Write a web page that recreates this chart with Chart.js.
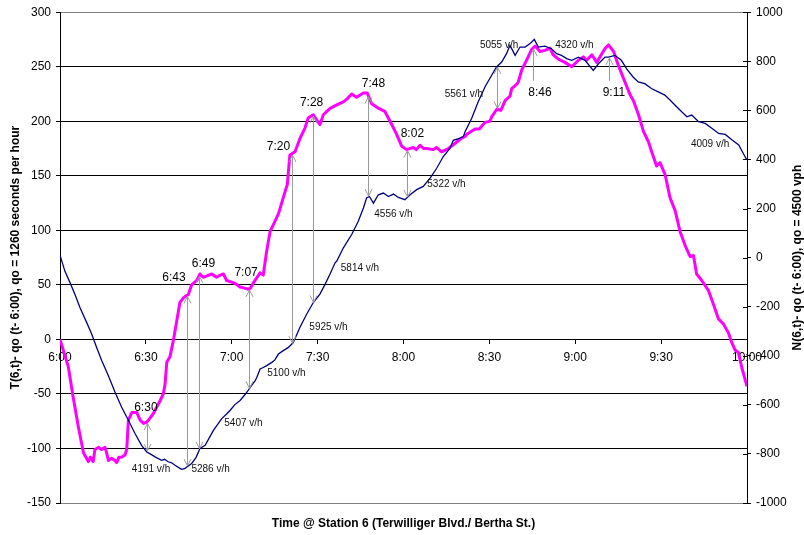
<!DOCTYPE html>
<html>
<head>
<meta charset="utf-8">
<title>Cumulative curves, Station 6</title>
<script src="https://cdn.jsdelivr.net/npm/chart.js@4.4.1/dist/chart.umd.min.js"></script>
<style>
  html, body { margin: 0; padding: 0; background: #ffffff; }
  canvas { display: block; }
</style>
</head>
<body>
<canvas id="chart" width="804" height="535"></canvas>
<script>
// ---- Data -------------------------------------------------------------
// Minutes after 6:00 and T(6,t) - qo (t - 6:00), seconds (left axis)
const tMinutes = [
  0, 2.9, 4.6, 6.4, 8.2, 9.9, 10.6, 11.6, 12.2, 13.5, 14.5, 15.7, 16.3, 16.9, 18.0, 19.2, 19.8,
  20.6, 21.5, 22.7, 23.3, 23.9, 25.1, 26.8, 28.0, 29.2, 30.3, 31.5, 32.6, 34.0, 35.0, 36.1, 36.7,
  37.3, 38.4, 39.6, 40.8, 41.9, 43.1, 44.0, 44.8, 46.0, 47.8, 48.9, 50.0, 51.2, 53.0, 54.7, 56.0,
  57.1, 58.2, 60.5, 62.0, 62.9, 64.5, 65.8, 66.5, 67.6, 69.9, 71.0, 72.2, 73.4, 74.5, 76.3, 78.0,
  79.4, 80.3, 82.1, 83.8, 85.6, 86.7, 87.9, 88.5, 90.2, 90.8, 92.0, 93.2, 94.5, 96.7, 99.1, 100.5,
  101.9, 103.6, 106.0, 107.3, 108.9, 111.2, 113.5, 115.9, 117.6, 119.4, 121.1, 123.4, 124.5, 125.8,
  127.0, 128.1, 130.4, 131.5, 133.3, 135.7, 138.6, 140.0, 141.5, 142.1, 145.0, 146.5, 148.5, 150.2,
  150.8, 152.6, 154.0, 155.5, 157.2, 157.8, 159.6, 160.1, 161.3, 163.0, 164.8, 166.0, 167.7, 169.4,
  171.2, 172.3, 174.1, 176.4, 178.8, 181.1, 182.8, 184.0, 185.8, 187.5, 189.3, 190.5, 191.6, 193.4,
  195.1, 196.9, 199.2, 200.3, 202.1, 203.8, 205.6, 206.7, 208.4, 209.6, 211.4, 213.1, 214.9, 216.6,
  218.4, 220.1, 221.3, 222.4, 224.2, 226.5, 228.3, 230.0, 231.8, 233.5, 234.7, 235.9, 237.0, 238.2,
  240
];
const tSeconds = [
  0, -25, -53, -80, -104, -112, -108, -112, -101, -99, -101, -99, -104, -111, -109, -111, -113,
  -108, -108, -106, -101, -74, -67, -67, -74, -77, -76, -72, -68, -61, -56, -50, -41,
  -21, -16, -1, 17, 34, 38, 40, 41, 50, 54, 60, 57, 58, 60, 57, 59,
  60, 54, 52, 50, 48, 47, 46, 47, 52, 61, 59, 81, 99, 105, 115, 130,
  142, 169, 172, 184, 194, 203, 205, 206, 199, 197, 206, 209, 212, 215, 218, 221,
  225, 222, 226, 226, 216, 212, 209, 197, 188, 177, 174, 176, 174, 178,
  175, 175, 174, 176, 172, 175, 181, 184, 186, 188, 193, 193, 199, 200,
  204, 211, 210, 219, 223, 230, 234, 236, 247, 256, 266, 269, 264, 265,
  267, 261, 257, 254, 250, 256, 259, 256, 261, 254, 262, 267, 270, 264,
  251, 239, 224, 219, 206, 191, 181, 172, 159, 162, 151, 130, 118, 99,
  86, 76, 77, 60, 54, 45, 32, 19, 14, 6, -3, -10, -12, -26,
  -43
];

// Minutes after 6:00 and N(6,t) - qo (t - 6:00), vehicles (right axis)
const nMinutes = [
  0, 1.7, 3.5, 5.2, 7.0, 9.3, 11.1, 12.8, 14.6, 16.9, 19.2, 21.5, 23.9, 26.2, 28.5, 30.3, 31.5,
  33.2, 35.5, 36.5, 37.8, 39.0, 40.2, 41.9, 42.5, 43.7, 44.3, 46.0, 47.5, 48.9, 50.7, 53.6, 56.5,
  58.3, 59.4, 61.0, 62.9, 64.5, 65.8, 67.0, 68.2, 68.7, 69.9, 71.0, 72.2, 74.0, 75.0, 76.3, 78.0,
  79.8, 81.5, 83.8, 86.2, 88.5, 90.8, 92.6, 94.3, 96.1, 96.7, 99.0, 101.9, 104.2, 106.0, 107.1,
  108.1, 109.5, 111.2, 113.0, 114.7, 116.5, 118.2, 120.5, 122.3, 124.6, 126.9, 129.3, 131.6, 133.9,
  136.2, 137.4, 139.5, 140.9, 141.5, 143.8, 146.1, 148.5, 150.8, 152.5, 154.3, 156.0, 157.2, 159.0,
  160.7, 162.5, 164.2, 165.7, 167.1, 169.4, 171.7, 173.5, 175.2, 177.0, 178.8, 181.1, 183.4, 186.3,
  188.1, 190.4, 191.6, 193.9, 196.1, 197.9, 200.2, 202.0, 204.3, 206.6, 209.0, 211.3, 213.1, 214.9,
  217.2, 219.0, 220.7, 223.1, 225.4, 227.7, 230.1, 232.4, 234.7, 237.1, 239.6, 240
];
const nVehicles = [
  10, -55, -102, -149, -204, -264, -312, -366, -420, -481, -548, -609, -663, -717, -765, -792, -800,
  -812, -826, -822, -832, -836, -846, -859, -863, -859, -853, -839, -815, -778, -765, -704, -656,
  -636, -623, -600, -582, -560, -540, -520, -501, -490, -454, -448, -440, -427, -418, -393, -379,
  -366, -346, -285, -230, -183, -149, -109, -68, -21, -14, 40, 94, 148, 202, 243,
  249, 222, 256, 263, 249, 259, 245, 236, 256, 277, 290, 324, 364, 412,
  445, 478, 486, 493, 513, 567, 635, 696, 743, 777, 797, 831, 865, 824,
  858, 858, 872, 889, 858, 862, 851, 831, 824, 811, 804, 817, 804, 763,
  790, 817, 817, 824, 804, 770, 736, 716, 709, 689, 675, 662, 642, 621,
  594, 574, 581, 554, 547, 527, 506, 502, 480, 459, 405, 400
];

// Axis tick labels along the time axis (every 30 minutes from 6:00)
const timeTickLabels = ['6:00', '6:30', '7:00', '7:30', '8:00', '8:30', '9:00', '9:30', '10:00'];

// Marked instants: time between the curves, in minutes after 6:00, and their clock labels
const markMinutes = [30.3, 44.3, 48.7, 66.0, 80.9, 88.3, 107.7, 121.1, 152.8, 165.3, 191.9];
const markLabels  = ['6:30', '6:43', '6:49', '7:07', '7:20', '7:28', '7:48', '8:02', '', '8:46', '9:11'];

// Measured flows written along the N curve
const flowLabels = ['4191 v/h', '5286 v/h', '5407 v/h', '5100 v/h', '5925 v/h', '5814 v/h',
                    '4556 v/h', '5322 v/h', '5561 v/h', '5055 v/h', '4320 v/h', '4009 v/h'];

// ---- Helpers ----------------------------------------------------------
function toPoints(xs, ys) { return xs.map((x, i) => ({ x: x, y: ys[i] })); }

function valueAt(xs, ys, t) {
  if (t <= xs[0]) return ys[0];
  for (let i = 1; i < xs.length; i++) {
    if (t <= xs[i]) {
      const f = (t - xs[i - 1]) / (xs[i] - xs[i - 1]);
      return ys[i - 1] + f * (ys[i] - ys[i - 1]);
    }
  }
  return ys[ys.length - 1];
}

const FONT = '"Liberation Sans", Arial, Helvetica, sans-serif';
Chart.defaults.font.family = FONT;
Chart.defaults.color = '#000000';

// Where the written notes sit: [minutes, axis value]
const markLabelAt = [
  [30.0, -62.3], [39.8, 56.3], [50.1, 69.1], [65.0, 60.9], [76.3, 176.8],
  [87.9, 217.0], [109.5, 234.3], [123.1, 188.7], null, [167.7, 226.1], [193.5, 226.1]
];
const flowLabelAt = [
  [31.8, -862], [52.6, -862], [64.1, -675], [79.1, -473], [93.8, -282], [104.8, -43],
  [116.5, 176], [135.0, 298], [141.1, 667], [153.4, 866], [179.7, 866], [227.1, 460]
];
const leaderMarks = ['8:46', '9:11'];

function arrowHead(ctx, x, yTip, dir) {
  // dir = -1 points up, +1 points down
  ctx.beginPath();
  ctx.moveTo(x - 3.5, yTip - dir * 7);
  ctx.lineTo(x, yTip);
  ctx.lineTo(x + 3.5, yTip - dir * 7);
  ctx.stroke();
}

const notesPlugin = {
  id: 'curveNotes',
  afterDatasetsDraw(chart) {
    const { ctx, scales } = chart;
    const xs = scales.x, yl = scales.y, yr = scales.y2;
    ctx.save();

    // small inward ticks on the right axis
    ctx.strokeStyle = '#000';
    ctx.lineWidth = 1;
    yr.ticks.forEach(tk => {
      const py = Math.round(yr.getPixelForValue(tk.value)) + 0.5;
      ctx.beginPath();
      ctx.moveTo(chart.chartArea.right - 4, py);
      ctx.lineTo(chart.chartArea.right, py);
      ctx.stroke();
    });

    // arrows between the two curves
    ctx.strokeStyle = '#9a9a9a';
    ctx.lineWidth = 1;
    markMinutes.forEach((m, i) => {
      const px = Math.round(xs.getPixelForValue(m)) + 0.5;
      const pT = yl.getPixelForValue(valueAt(tMinutes, tSeconds, m));
      const pN = yr.getPixelForValue(valueAt(nMinutes, nVehicles, m));
      if (leaderMarks.includes(markLabels[i])) {
        const lab = markLabelAt[i];
        const top = Math.max(pT, pN) + 1;
        const bottom = yl.getPixelForValue(lab[1]) - 12;
        ctx.beginPath();
        ctx.moveTo(px, top);
        ctx.lineTo(px, bottom);
        ctx.stroke();
        arrowHead(ctx, px, top, -1);
        return;
      }
      const top = Math.min(pT, pN) + 1;
      const bottom = Math.max(pT, pN) - 1;
      ctx.beginPath();
      ctx.moveTo(px, top);
      ctx.lineTo(px, bottom);
      ctx.stroke();
      arrowHead(ctx, px, top, -1);
      arrowHead(ctx, px, bottom, 1);
    });

    // clock labels
    ctx.fillStyle = '#000';
    ctx.textAlign = 'center';
    ctx.textBaseline = 'middle';
    ctx.font = '12px ' + FONT;
    markLabels.forEach((txt, i) => {
      const at = markLabelAt[i];
      if (!txt || !at) return;
      ctx.fillText(txt, xs.getPixelForValue(at[0]), yl.getPixelForValue(at[1]));
    });

    // flow labels
    ctx.fillStyle = '#111';
    ctx.font = '10px ' + FONT;
    flowLabels.forEach((txt, i) => {
      const at = flowLabelAt[i];
      ctx.fillText(txt, xs.getPixelForValue(at[0]), yr.getPixelForValue(at[1]));
    });
    ctx.restore();
  },
  afterDraw(chart) {
    const { ctx, chartArea } = chart;
    const midY = (chartArea.top + chartArea.bottom) / 2;
    ctx.save();
    ctx.fillStyle = '#000';
    ctx.font = 'bold 12px ' + FONT;
    ctx.textAlign = 'center';
    ctx.textBaseline = 'alphabetic';
    ctx.fillText('Time @ Station 6 (Terwilliger Blvd./ Bertha St.)',
      (chartArea.left + chartArea.right) / 2, 527);

    ctx.save();
    ctx.translate(18.5, midY);
    ctx.rotate(-Math.PI / 2);
    ctx.fillText('T(6,t)- qo (t- 6:00), qo = 1260 seconds per hour', 0, 0);
    ctx.restore();

    ctx.save();
    ctx.translate(800.5, midY);
    ctx.rotate(-Math.PI / 2);
    ctx.fillText('N(6,t)- qo (t- 6:00), qo = 4500 vph', 0, 0);
    ctx.restore();
    ctx.restore();
  }
};

new Chart(document.getElementById('chart'), {
  type: 'line',
  data: {
    datasets: [
      {
        label: 'N(6,t)',
        data: toPoints(nMinutes, nVehicles),
        yAxisID: 'y2',
        borderColor: '#000080',
        borderWidth: 1.3,
        pointRadius: 0,
        tension: 0,
        fill: false
      },
      {
        label: 'T(6,t)',
        data: toPoints(tMinutes, tSeconds),
        yAxisID: 'y',
        borderColor: '#ff00ff',
        borderWidth: 3,
        borderJoinStyle: 'round',
        pointRadius: 0,
        tension: 0,
        fill: false
      }
    ]
  },
  options: {
    responsive: false,
    animation: false,
    events: [],
    layout: { padding: { left: 0, right: 0, top: 10, bottom: 32 } },
    plugins: { legend: { display: false }, tooltip: { enabled: false }, title: { display: false } },
    scales: {
      x: {
        type: 'linear',
        min: 0,
        max: 240,
        position: { y: 0 },
        afterFit(scale) { scale.height = 0; },
        grid: { drawOnChartArea: false, drawTicks: true, tickLength: 4, color: '#000' },
        border: { display: true, color: '#000', width: 1 },
        ticks: {
          stepSize: 30,
          autoSkip: false,
          maxRotation: 0,
          padding: 7,
          font: { size: 12 },
          color: '#000',
          callback: (v) => timeTickLabels[Math.round(v / 30)]
        }
      },
      y: {
        type: 'linear',
        position: 'left',
        min: -150,
        max: 300,
        afterFit(scale) { scale.width = 60; },
        grid: {
          color: (c) => (c.tick && (c.tick.value === 300 || c.tick.value === -150)) ? '#808080' : '#000',
          tickColor: '#000',
          tickLength: 4,
          lineWidth: 1
        },
        border: { display: true, color: '#000', width: 1 },
        ticks: { stepSize: 50, padding: 5, font: { size: 12 }, color: '#000', callback: (v) => String(v) }
      },
      y2: {
        type: 'linear',
        position: 'right',
        min: -1000,
        max: 1000,
        afterFit(scale) { scale.width = 57; },
        grid: { drawOnChartArea: false, tickColor: '#000', tickLength: 4 },
        border: { display: true, color: '#000', width: 1 },
        ticks: { stepSize: 200, padding: 5, font: { size: 12 }, color: '#000', callback: (v) => String(v) }
      }
    }
  },
  plugins: [notesPlugin]
});
</script>
</body>
</html>
